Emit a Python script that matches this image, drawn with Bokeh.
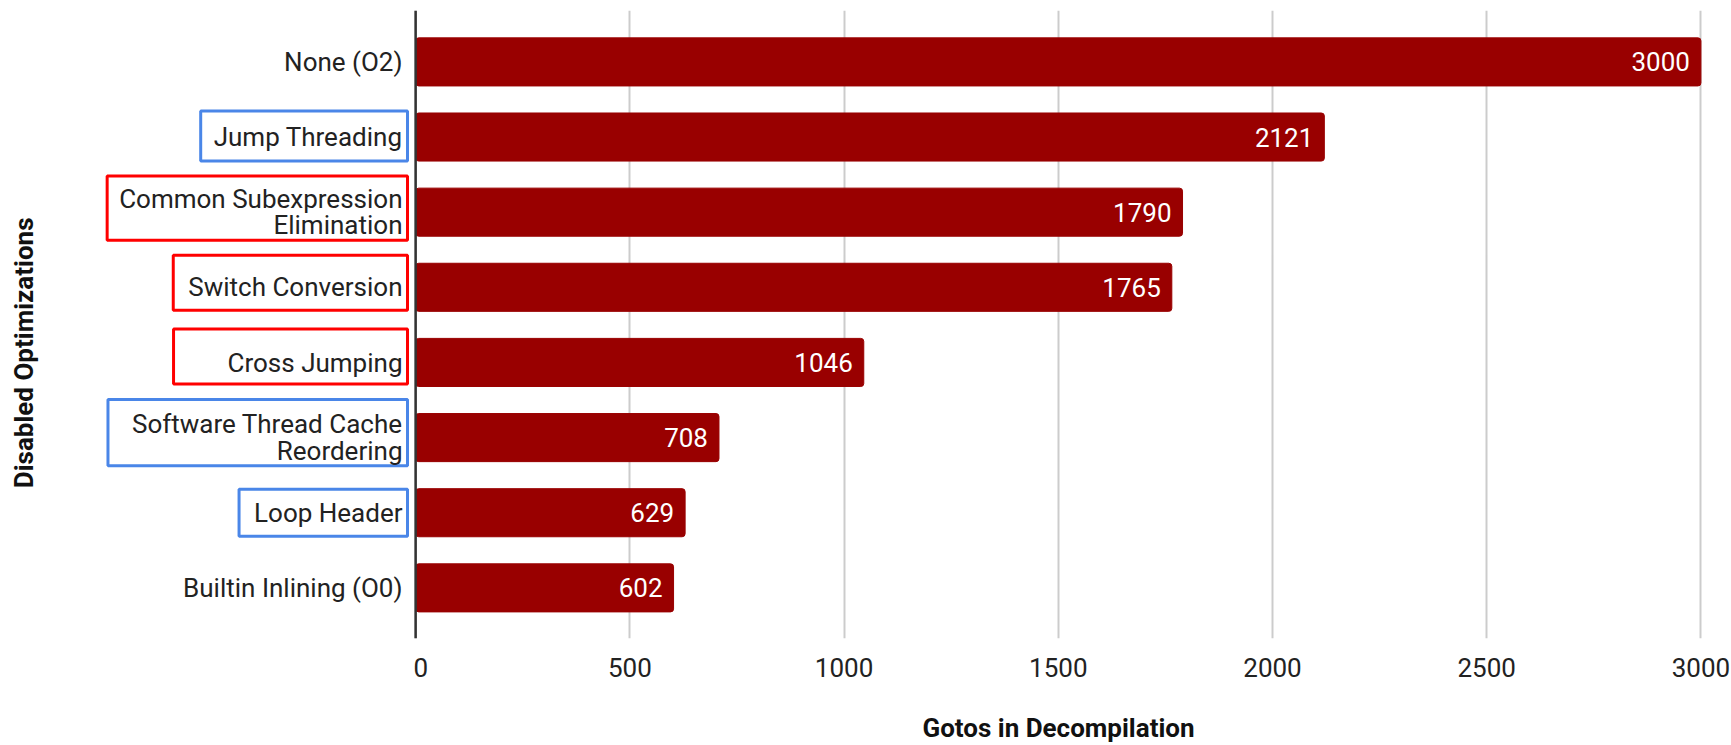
import math
from bokeh.plotting import figure
from bokeh.layouts import row
from bokeh.models import ColumnDataSource, Range1d, FixedTicker, Span
from bokeh.core.properties import value
from bokeh.embed import file_html
from bokeh.resources import INLINE

# ---- data ----
categories = [
    "None (O2)",
    "Jump Threading",
    "Common Subexpression\nElimination",
    "Switch Conversion",
    "Cross Jumping",
    "Software Thread Cache\nReordering",
    "Loop Header",
    "Builtin Inlining (O0)",
]
gotos = [3000, 2121, 1790, 1765, 1046, 708, 629, 602]
highlight = [None, "blue", "red", "red", "red", "blue", "blue", None]
x_ticks = [0, 500, 1000, 1500, 2000, 2500, 3000]
x_title = "Gotos in Decompilation"
y_title = "Disabled Optimizations"

# ---- styling ----
FONT = "Roboto"
BAR = "#990000"
BOX_COLORS = {"blue": "#4a86e8", "red": "#ff0000"}
# highlight boxes: padding around each label (px) and vertical shift of the box
BOX_PAD = {
    1: dict(left=13, right=5, top=11, bottom=9),
    2: dict(left=12, right=5, top=8, bottom=0),
    3: dict(left=15, right=5, top=17, bottom=8),
    4: dict(left=54, right=5, top=19, bottom=6),
    5: dict(left=24, right=5, top=10, bottom=0),
    6: dict(left=15, right=5, top=9, bottom=8),
}
BOX_SHIFT = {1: -1, 2: -4, 3: -4.5, 4: -6, 5: -5, 6: 0}

n = len(categories)
ypos = [n - 1 - i for i in range(n)]

src = ColumnDataSource(dict(
    y=ypos, v=gotos, lab=[str(g) for g in gotos], cat=categories,
))

H = 745
TOP, BOTTOM = 10, 106
y_range = Range1d(-0.674, 7.684)

# ---------- left panel: category labels and the y-axis title ----------
left = figure(
    width=413, height=H, x_range=Range1d(0, 1), y_range=y_range,
    output_backend="svg", toolbar_location=None,
    x_axis_location=None, y_axis_location=None,
    min_border_left=0, min_border_right=0, min_border_top=TOP, min_border_bottom=BOTTOM,
)
left.outline_line_color = None
left.grid.visible = False

for i, cat in enumerate(categories):
    kw = dict(x=[1], y=[ypos[i]], text=[cat], x_offset=-11,
              text_align="right", text_baseline="middle",
              text_font=value(FONT), text_font_size="26px",
              text_color="#222222", text_line_height=0.88)
    if highlight[i]:
        kw.update(border_line_color=BOX_COLORS[highlight[i]], border_line_width=3,
                  padding=BOX_PAD[i], x_offset=-6, y_offset=BOX_SHIFT[i])
    left.text(**kw)

left.text(x=[0], y=[(n - 1) / 2], text=[y_title], angle=math.pi / 2,
          x_offset=23, y_offset=28, text_align="center", text_baseline="middle",
          text_font=value(FONT), text_font_style="bold", text_font_size="26px",
          text_color="#111111")

# ---------- right panel: the bars ----------
p = figure(
    width=1318, height=H, x_range=Range1d(-5, 3006), y_range=y_range,
    output_backend="svg", toolbar_location=None,
    y_axis_location=None,
    min_border_left=0, min_border_right=28, min_border_top=TOP, min_border_bottom=BOTTOM,
)
p.outline_line_color = None
p.ygrid.visible = False
p.xgrid.ticker = FixedTicker(ticks=x_ticks)
p.xgrid.grid_line_color = "#cccccc"
p.xgrid.grid_line_width = 2

ax = p.xaxis[0]
ax.ticker = FixedTicker(ticks=x_ticks)
ax.axis_line_color = None
ax.major_tick_line_color = None
ax.minor_tick_line_color = None
ax.major_tick_out = 0
ax.major_label_standoff = 19
ax.major_label_text_font = FONT
ax.major_label_text_font_size = "26px"
ax.major_label_text_color = "#222222"
ax.axis_label = x_title
ax.axis_label_standoff = 33
ax.axis_label_text_font = FONT
ax.axis_label_text_font_size = "26px"
ax.axis_label_text_font_style = "bold"
ax.axis_label_text_color = "#111111"

p.hbar(y="y", left=0, right="v", height=0.64, color=BAR, border_radius=3, source=src)

p.text(x="v", y="y", text="lab", source=src, x_offset=-11,
       text_align="right", text_baseline="middle", text_color="white",
       text_font=value(FONT), text_font_size="26px")

p.add_layout(Span(location=0, dimension="height", line_color="#333333", line_width=2.5))

layout = row(left, p)
open("out.html", "w").write(file_html(layout, INLINE))
